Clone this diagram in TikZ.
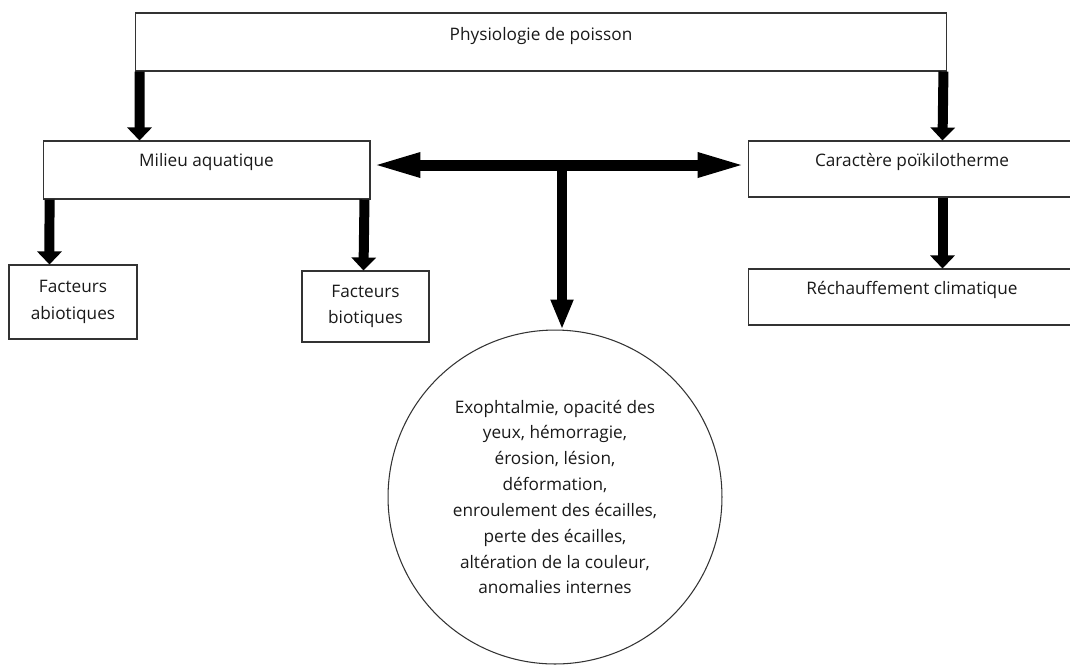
\documentclass[tikz,border=0pt]{standalone}
\usepackage{fontspec}
\setmainfont{Open Sans}
\usepackage{tikz}
\usetikzlibrary{arrows.meta,positioning,calc}

\begin{document}
\begin{tikzpicture}[
            x=0.02cm,y=-0.02cm,
            txt/.style={font=\fontsize{9.8}{15}\selectfont,text=black!90},
            box/.style={draw=black!80,line width=0.6pt,rectangle,inner sep=0pt,align=center,txt},
            topbox/.style={box,text height=0.5cm,text depth=0.66cm},
            effect/.style={draw=black!80,line width=0.6pt,circle,minimum size=6.68cm,inner sep=0pt,align=center,txt,font=\fontsize{9.8}{14.7}\selectfont},
            fat/.style={draw,line width=0.2cm,-{Triangle[length=0.26cm 0,width=0.48cm 0]}},
            twoway/.style={draw,line width=0.22cm,{Triangle[length=1cm 0,width=0.44cm 0]}-{Triangle[length=1cm 0,width=0.44cm 0]}},
            down/.style={draw,line width=0.2cm,-{Triangle[length=0.6cm 0,width=0.42cm 0]}}
          ]
          \useasboundingbox (0,0) rectangle (1070,664);

          %boxes
          \node[box,minimum width=16.24cm,text height=0.54cm,text depth=0.62cm] (phys) at (541,42) {Physiologie de poisson};
          \node[topbox,minimum width=6.54cm] (milieu) at (206.5,170) {Milieu aquatique};
          \node[topbox,minimum width=6.56cm,text depth=0.62cm] (carac) at (912,169) {Caractère poïkilotherme};
          \node[topbox,minimum width=6.56cm,text depth=0.62cm] (rech) at (912,297) {Réchauffement climatique};
          \node[box,minimum width=2.56cm,minimum height=1.48cm] (abio) at (73,302) {Facteurs\\abiotiques};
          \node[box,minimum width=2.54cm,minimum height=1.42cm] (bio) at (365.5,306.5) {Facteurs\\biotiques};

          %effects
          \node[effect] (effets) at (555,497) {Exophtalmie, opacité des\\yeux, hémorragie,\\érosion, lésion,\\déformation,\\enroulement des écailles,\\perte des écailles,\\altération de la couleur,\\anomalies internes};
          \coordinate (hub) at (562,165);

          %arrows
          \path[fat] ($(phys.south west)+(5,0)$) -- ($(milieu.north west)+(97,0)$);
          \path[fat] ($(phys.south east)+(-4,0)$) -- ($(carac.north west)+(195,0)$);
          \path[fat] ($(carac.south west)+(195,0)$) -- ($(rech.north west)+(195,0)$);
          \path[fat] ($(milieu.south west)+(7,0)$) -- ($(abio.north west)+(41,0)$);
          \path[fat] ($(milieu.south east)+(-6,0)$) -- ($(bio.north west)+(62,0)$);
          \path[twoway] ($(milieu.east)+(0,-5)$) -- ($(carac.west)+(0,-4)$);
          \path[down] (hub) -- (hub |- effets.north);

      \end{tikzpicture}
\end{document}
